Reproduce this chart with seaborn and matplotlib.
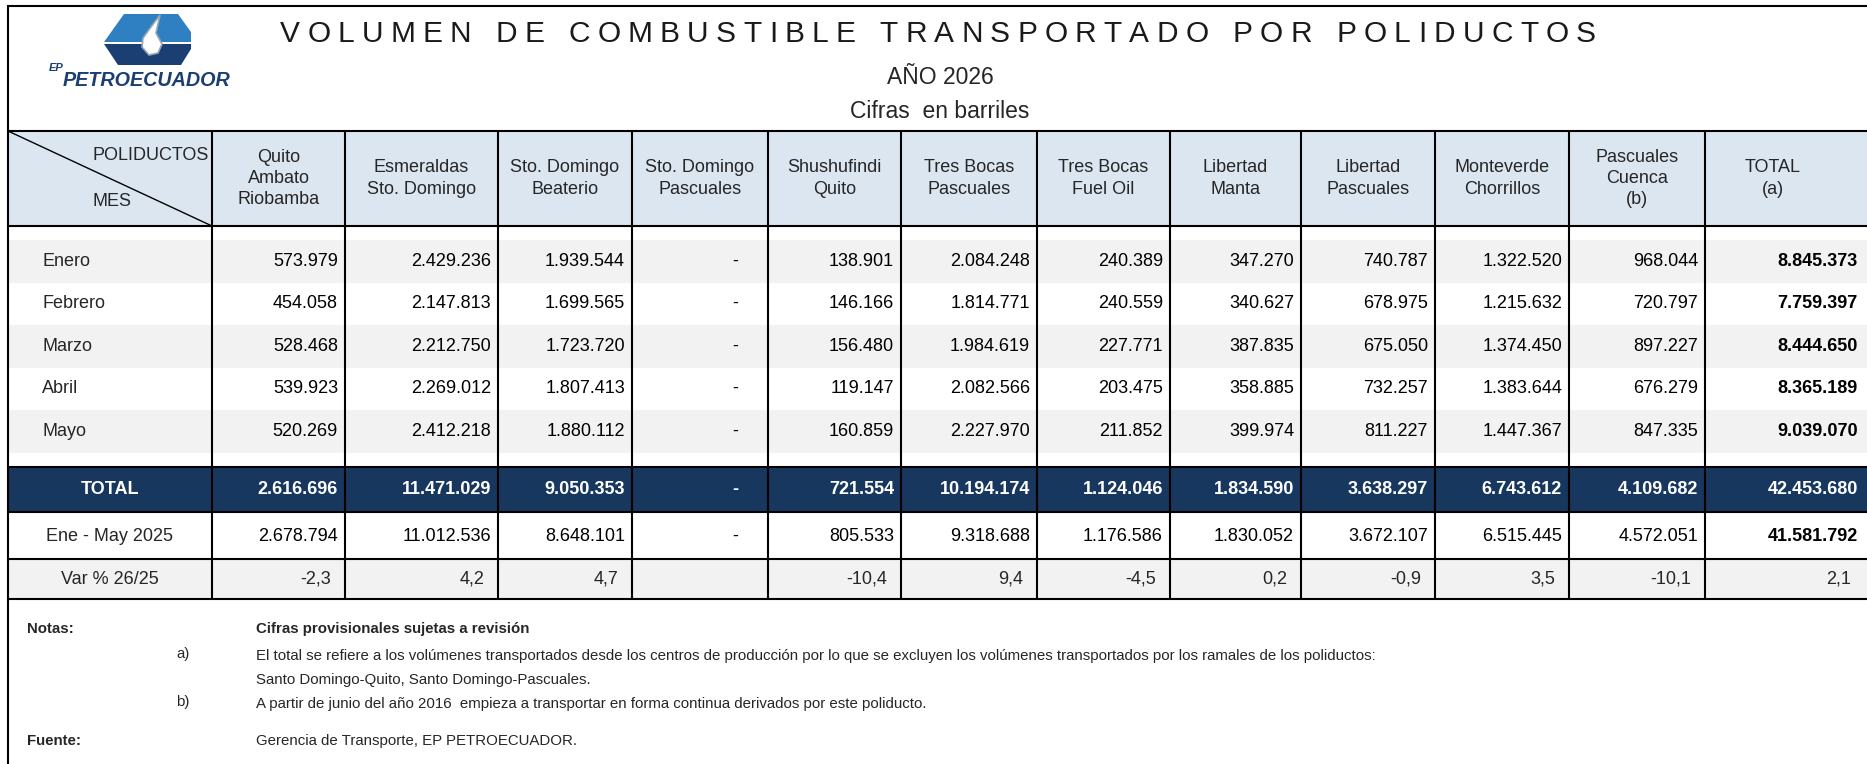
"""
Volumen de combustible transportado por poliductos - tabla 2026.
"""
import matplotlib
matplotlib.use("Agg")
import matplotlib.pyplot as plt
import matplotlib.patches as mpatches
from matplotlib import font_manager
from matplotlib.textpath import text_to_path
import seaborn as sns

sns.set_theme(style="white")
plt.rcParams['font.family'] = ['Liberation Sans', 'DejaVu Sans']

# ---- data ----
months = ["Enero", "Febrero", "Marzo", "Abril", "Mayo"]
pipelines = ["Quito\nAmbato\nRiobamba", "Esmeraldas\nSto. Domingo", "Sto. Domingo\nBeaterio",
             "Sto. Domingo\nPascuales", "Shushufindi\nQuito", "Tres Bocas\nPascuales",
             "Tres Bocas\nFuel Oil", "Libertad\nManta", "Libertad\nPascuales",
             "Monteverde\nChorrillos", "Pascuales\nCuenca\n(b)", "TOTAL\n(a)"]

enero = [573979, 2429236, 1939544, 0, 138901, 2084248, 240389, 347270, 740787, 1322520, 968044, 8845373]
febrero = [454058, 2147813, 1699565, 0, 146166, 1814771, 240559, 340627, 678975, 1215632, 720797, 7759397]
marzo = [528468, 2212750, 1723720, 0, 156480, 1984619, 227771, 387835, 675050, 1374450, 897227, 8444650]
abril = [539923, 2269012, 1807413, 0, 119147, 2082566, 203475, 358885, 732257, 1383644, 676279, 8365189]
mayo = [520269, 2412218, 1880112, 0, 160859, 2227970, 211852, 399974, 811227, 1447367, 847335, 9039070]
total_2026 = [2616696, 11471029, 9050353, 0, 721554, 10194174, 1124046, 1834590, 3638297, 6743612, 4109682, 42453680]
ene_may_2025 = [2678794, 11012536, 8648101, 0, 805533, 9318688, 1176586, 1830052, 3672107, 6515445, 4572051, 41581792]
var_pct = [-2.3, 4.2, 4.7, None, -10.4, 9.4, -4.5, 0.2, -0.9, 3.5, -10.1, 2.1]

notes = ["El total se refiere a los volúmenes transportados desde los centros de producción por lo que se excluyen los volúmenes transportados por los ramales de los poliductos:",
         "Santo Domingo-Quito, Santo Domingo-Pascuales.",
         "A partir de junio del año 2016  empieza a transportar en forma continua derivados por este poliducto."]

# ---- layout (pixels) ----
W, H = 1867, 764
col_edges = [8, 212, 345, 498, 632, 768, 901, 1037, 1170, 1301, 1435, 1569, 1705, 1880]
head_top, head_bot = 131, 226
month_top, month_h = 240, 42.5
tot_top, tot_bot, prev_bot, var_bot = 467, 512, 559, 599

NAVY = "#17375E"
HEAD_BG = "#DCE6F1"
GRAY = "#F2F2F2"
LOGO_DARK = "#1B3F73"
LW = 1.5
FS = 13

fig = plt.figure(figsize=(W / 100, H / 100), dpi=100)
ax = fig.add_axes([0, 0, 1, 1])
ax.set_xlim(0, W)
ax.set_ylim(H, 0)
ax.axis("off")


def rect(x0, x1, y0, y1, color):
    ax.add_patch(mpatches.Rectangle((x0, y0), x1 - x0, y1 - y0, facecolor=color, edgecolor="none", zorder=0))


def fmt_int(v):
    return f"{v:,}".replace(",", ".")


def fmt_pct(v):
    return f"{v:.1f}".replace(".", ",")


x_left, x_right = col_edges[0], col_edges[-1]

# ---- backgrounds ----
rect(x_left, x_right, head_top, head_bot, HEAD_BG)
for i in range(len(months)):
    if i % 2 == 0:
        rect(x_left, x_right, month_top + i * month_h, month_top + (i + 1) * month_h, GRAY)
rect(x_left, x_right, tot_top, tot_bot, NAVY)
rect(x_left, x_right, prev_bot, var_bot, GRAY)

# ---- lines ----
ax.plot([x_left, x_left], [6, H], color="black", lw=LW)
ax.plot([x_left, W], [6, 6], color="black", lw=LW)
for y in [head_top, head_bot, tot_top, tot_bot, prev_bot, var_bot]:
    ax.plot([x_left, x_right], [y, y], color="black", lw=LW)
for x in col_edges[1:]:
    ax.plot([x, x], [head_top, var_bot], color="black", lw=LW)
ax.plot([x_left, col_edges[1]], [head_top, head_bot], color="black", lw=1.0)

# ---- header ----
ax.text(col_edges[1] - 3, 156, "POLIDUCTOS", ha="right", va="center", fontsize=FS)
ax.text(112, 201, "MES", ha="center", va="center", fontsize=FS)
for j, name in enumerate(pipelines):
    cx = (col_edges[j + 1] + col_edges[j + 2]) / 2
    if j == len(pipelines) - 1:
        cx = (col_edges[j + 1] + 1841) / 2
    ax.text(cx, (head_top + head_bot) / 2, name, ha="center", va="center",
            fontsize=FS, linespacing=1.32, multialignment="center")


def draw_values(row, yc, color="black", bold=False, last_bold=False):
    for j, v in enumerate(row):
        x1 = col_edges[j + 2]
        if j == len(row) - 1:
            x1 = W - 2
        weight = "bold" if (bold or (last_bold and j == len(row) - 1)) else "normal"
        if v == 0:
            ax.text(x1 - 30, yc, "-", ha="right", va="center", fontsize=FS, color=color, fontweight=weight)
        else:
            ax.text(x1 - 7, yc, fmt_int(v), ha="right", va="center", fontsize=FS, color=color, fontweight=weight)


# ---- body ----
for i, (m, row) in enumerate(zip(months, [enero, febrero, marzo, abril, mayo])):
    yc = month_top + (i + 0.5) * month_h
    ax.text(42, yc, m, ha="left", va="center", fontsize=FS)
    draw_values(row, yc, last_bold=True)

c0 = (col_edges[0] + col_edges[1]) / 2
yc = (tot_top + tot_bot) / 2
ax.text(c0, yc, "TOTAL", ha="center", va="center", fontsize=FS, color="white", fontweight="bold")
draw_values(total_2026, yc, color="white", bold=True)

yc = (tot_bot + prev_bot) / 2 + 1
ax.text(c0, yc, "Ene - May 2025", ha="center", va="center", fontsize=FS)
draw_values(ene_may_2025, yc, last_bold=True)

yc = (prev_bot + var_bot) / 2
ax.text(c0, yc, "Var % 26/25", ha="center", va="center", fontsize=FS)
for j, v in enumerate(var_pct):
    if v is None:
        continue
    x1 = col_edges[j + 2] if j < len(var_pct) - 1 else W - 2
    ax.text(x1 - 14, yc, fmt_pct(v), ha="right", va="center", fontsize=FS)

# ---- title (letter spaced) ----
title = "VOLUMEN DE COMBUSTIBLE TRANSPORTADO POR POLIDUCTOS"
t_size = 21.5
fp = font_manager.FontProperties(family="Liberation Sans", size=t_size)


def ink_w(s, prop):
    w, h, d = text_to_path.get_text_width_height_descent(s, prop, ismath=False)
    return w * 100 / 72


words = title.split()
sum_ink = sum(ink_w(ch, fp) for w_ in words for ch in w_)
n_letter_gaps = sum(len(w_) - 1 for w_ in words)
word_factor = 3.3
track = (1596 - 280 - sum_ink) / (n_letter_gaps + word_factor * (len(words) - 1))
x = 280
for wi, w_ in enumerate(words):
    for ci, ch in enumerate(w_):
        ax.text(x, 34, ch, ha="left", va="center", fontproperties=fp, color="#1a1a1a")
        x += ink_w(ch, fp) + (track if ci < len(w_) - 1 else 0)
    x += track * word_factor

ax.text(940, 78, "AÑO 2026", ha="center", va="center", fontsize=16.5)
ax.text(940, 112, "Cifras  en barriles", ha="center", va="center", fontsize=16.5)

# ---- logo ----
ax.add_patch(mpatches.Polygon([(104, 42), (124, 14), (178, 14), (191, 32), (191, 42)],
                              closed=True, facecolor="#2F80C2", edgecolor="none"))
ax.add_patch(mpatches.Polygon([(104, 44), (191, 44), (191, 49), (181, 65), (118, 65)],
                              closed=True, facecolor=LOGO_DARK, edgecolor="none"))
ax.add_patch(mpatches.Polygon([(160, 15), (151, 27), (143, 38), (142, 47), (149, 55), (158, 53),
                               (162, 44), (156, 33)],
                              closed=True, facecolor="white", edgecolor="#9AA5B1", lw=1.2))
ax.text(64, 68, "EP", ha="right", va="center", fontsize=8, fontweight="bold", style="italic", color=LOGO_DARK)
ax.text(63, 80, "PETROECUADOR", ha="left", va="center", fontsize=14.2, fontweight="bold",
        style="italic", color=LOGO_DARK)

# ---- notes ----
names = {f.name for f in font_manager.fontManager.ttflist}
note_family = "Liberation Sans Narrow" if "Liberation Sans Narrow" in names else "Liberation Sans"
nfp = font_manager.FontProperties(family=note_family, size=10)
n_size = 10 * (1378 - 256) / ink_w(notes[0], nfp)
ax.text(27, 629, "Notas:", ha="left", va="center", fontsize=n_size, fontweight="bold", family=note_family)
ax.text(256, 629, "Cifras provisionales sujetas a revisión", ha="left", va="center",
        fontsize=n_size, fontweight="bold", family=note_family)
ax.text(190, 654, "a)", ha="right", va="center", fontsize=n_size, family=note_family)
ax.text(256, 656, notes[0], ha="left", va="center", fontsize=n_size, family=note_family)
ax.text(256, 680, notes[1], ha="left", va="center", fontsize=n_size, family=note_family)
ax.text(190, 702, "b)", ha="right", va="center", fontsize=n_size, family=note_family)
ax.text(256, 704, notes[2], ha="left", va="center", fontsize=n_size, family=note_family)
ax.text(27, 741, "Fuente:", ha="left", va="center", fontsize=n_size, fontweight="bold", family=note_family)
ax.text(256, 741, "Gerencia de Transporte, EP PETROECUADOR.", ha="left", va="center",
        fontsize=n_size, family=note_family)

fig.savefig("out.png", dpi=100)
